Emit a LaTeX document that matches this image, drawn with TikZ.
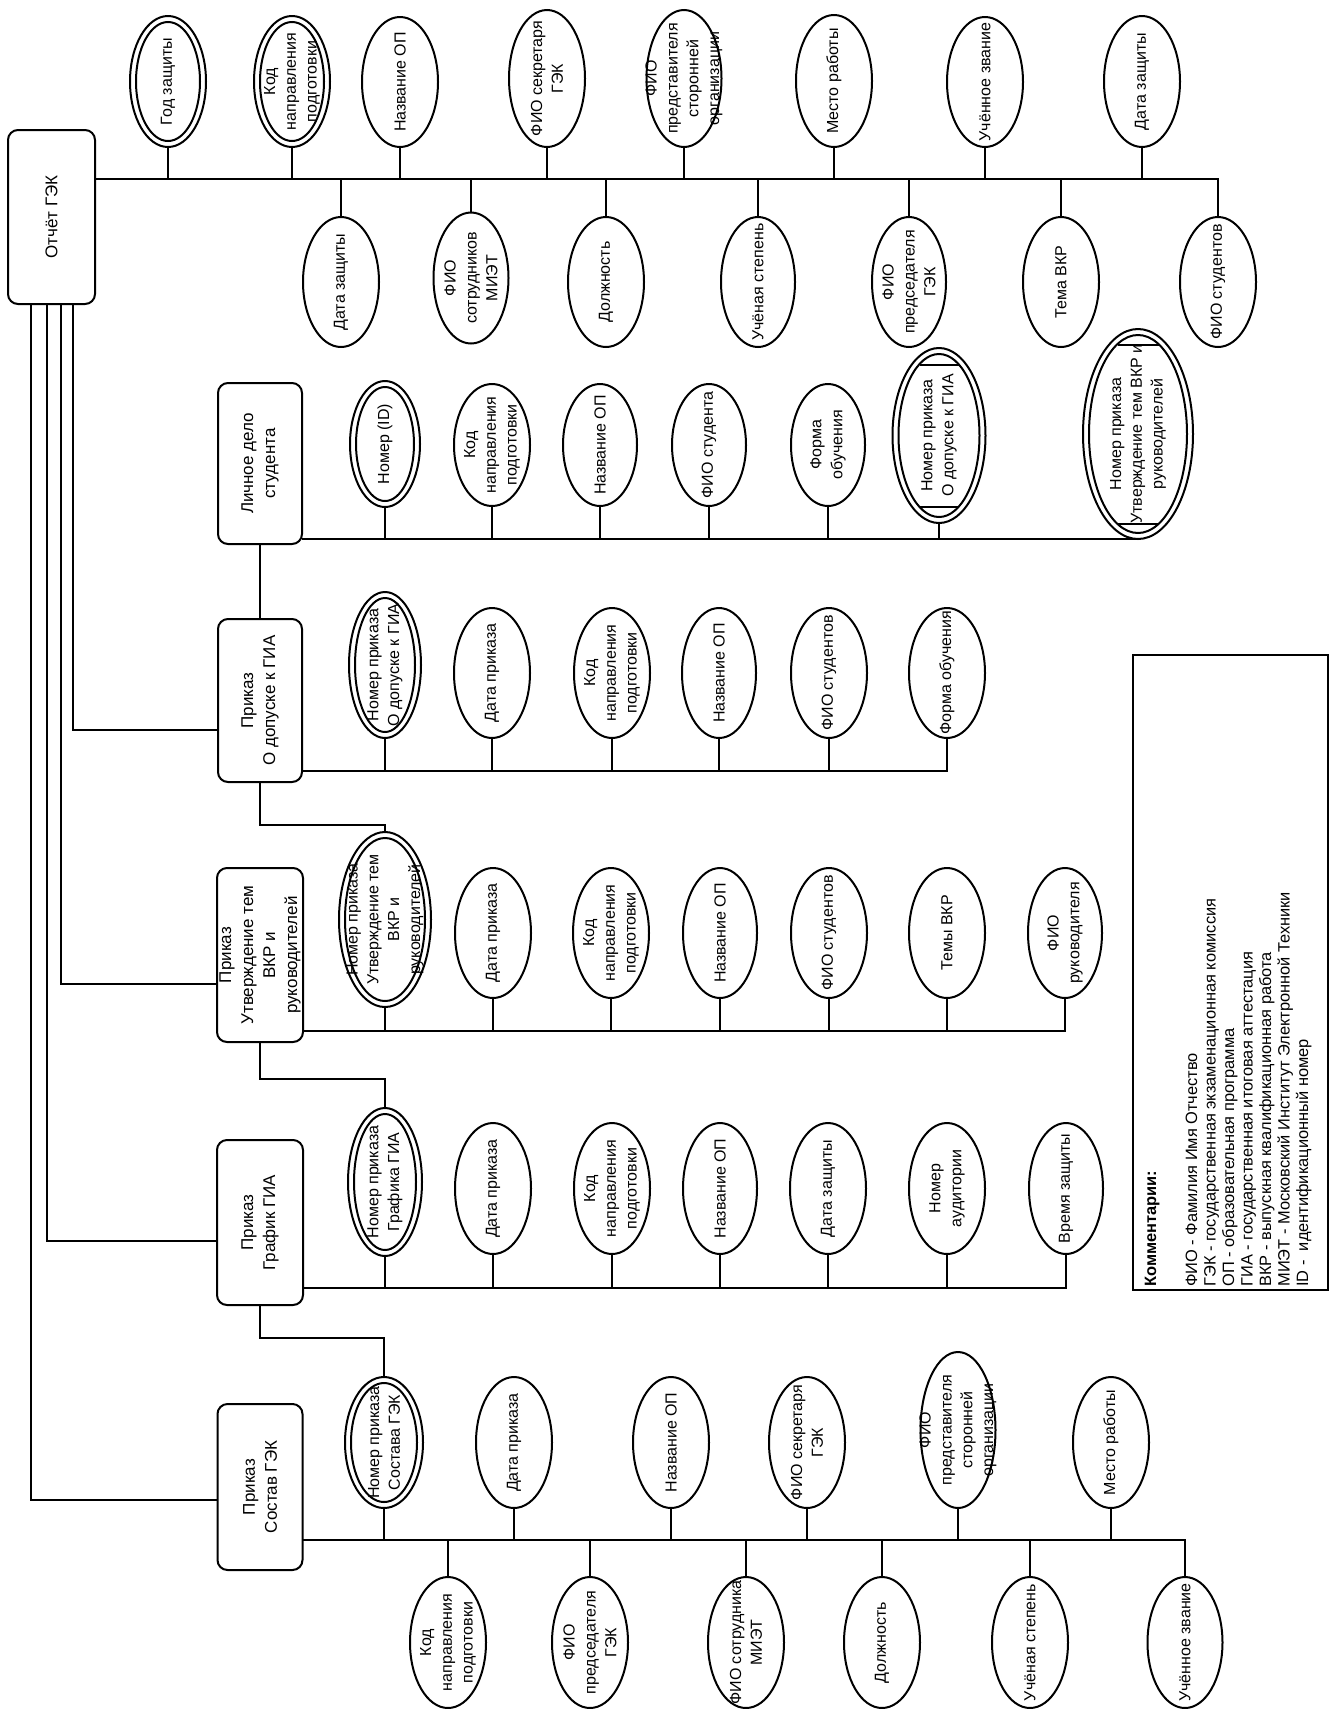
\documentclass[tikz,border=0pt]{standalone}
\usepackage{fontspec}
\setmainfont{Liberation Sans}
\usetikzlibrary{shapes.geometric}
\tikzset{
  ln/.style={line width=1pt},
  ell/.style={draw, ellipse, line width=1pt, inner sep=0pt, outer sep=0pt},
  etext/.style={rotate=90, align=center, inner sep=0pt, font=\fontsize{8}{10.4}\selectfont},
  box/.style={draw, rectangle, rounded corners=5pt, line width=1pt, inner sep=0pt, outer sep=0pt},
  btext/.style={rotate=90, align=center, inner sep=0pt, font=\fontsize{8.5}{11}\selectfont},
  leg/.style={rotate=90, anchor=base west, inner sep=0pt, font=\fontsize{8.2}{9}\selectfont},
}
% name, x, y, rx(px), ry(px), text
\newcommand\attrE[6]{\node[ell, minimum width=#4pt, minimum height=#5pt] (#1) at (#2,#3) {};
  \node[etext] at (#1.center) {#6};}
\newcommand\attrD[6]{\node[ell, minimum width=#4pt, minimum height=#5pt] (#1) at (#2,#3) {};
  \node[ell, minimum width=#4pt-6pt, minimum height=#5pt-6pt] (#1-in) at (#2,#3) {};
  \node[etext] at (#1.center) {#6};}
\begin{document}
\begin{tikzpicture}[x=0.5pt, y=-0.5pt]
\useasboundingbox (0,0) rectangle (1330,1709);

% ---------- Отчёт ГЭК ----------
\node[box, minimum width=43.5pt, minimum height=87pt] (b0) at (51.5,217) {};
\node[btext] at (b0.center) {Отчёт ГЭК};
\attrD{a1}{168}{81.5}{38}{65.5}{Год защиты}
\attrD{a2}{292}{81.5}{38}{65.5}{Код\\направления\\подготовки}
\attrE{a3}{400}{82}{38}{65}{Название ОП}
\attrE{a4}{547}{78.5}{38}{68.5}{ФИО секретаря\\ГЭК}
\attrE{a5}{684}{78.5}{37.5}{68.5}{ФИО\\представителя\\сторонней\\организации}
\attrE{a6}{834}{81}{38}{66}{Место работы}
\attrE{a7}{985}{82}{38}{65}{Учённое звание}
\attrE{a8}{1142}{81.5}{38}{65.5}{Дата защиты}
\attrE{a9}{341}{282}{38}{65}{Дата защиты}
\attrE{a10}{471}{278}{37.5}{65.5}{ФИО\\сотрудников\\МИЭТ}
\attrE{a11}{606}{282}{38}{65}{Должность}
\attrE{a12}{758}{282}{37}{65}{Учёная степень}
\attrE{a13}{909}{282}{37}{65}{ФИО\\председателя\\ГЭК}
\attrE{a14}{1061}{282}{38}{65}{Тема ВКР}
\attrE{a15}{1218}{282}{38}{65}{ФИО студентов}
\coordinate (bus0) at (1218,179);
\draw[ln] (b0.east |- bus0) -- (bus0) -- (a15.north);
\foreach \n in {a1,a2,a3,a4,a5,a6,a7,a8} \draw[ln] (\n.south) -- (\n |- bus0);
\foreach \n in {a9,a10,a11,a12,a13,a14} \draw[ln] (\n.north) -- (\n |- bus0);

% ---------- Личное дело студента ----------
\node[box, minimum width=42pt, minimum height=80.5pt] (b1) at (260,463.5) {};
\node[btext] at (b1.center) {Личное дело\\студента};
\attrD{c1}{385}{444}{35}{63}{Номер (ID)}
\attrE{c2}{492}{445}{38}{61}{Код\\направления\\подготовки}
\attrE{c3}{600}{445}{37}{61}{Название ОП}
\attrE{c4}{709}{445}{37}{61}{ФИО студента}
\attrE{c5}{828}{445}{37}{61}{Форма\\обучения}
\attrD{c6}{939}{435.5}{46.5}{87.5}{Номер приказа\\О допуске к ГИА}
\draw[ln] ([shift={(-19.5,-71)}]c6.center) -- ++(39,0);
\draw[ln] ([shift={(-19.5,71)}]c6.center) -- ++(39,0);
\attrD{c7}{1138}{434}{55}{105}{Номер приказа\\Утверждение тем ВКР и\\руководителей}
\draw[ln] ([shift={(-20.5,-89.5)}]c7.center) -- ++(41,0);
\draw[ln] ([shift={(-20.5,89.5)}]c7.center) -- ++(41,0);
\draw[ln] (b1.east |- c7.south) -- (c7.south);
\foreach \n in {c1,c2,c3,c4,c5,c6} \draw[ln] (\n.south) -- (\n |- c7.south);

% ---------- Приказ О допуске к ГИА ----------
\node[box, minimum width=42pt, minimum height=81.5pt] (b2) at (260,700.5) {};
\node[btext] at (b2.center) {Приказ\\О допуске к ГИА};
\attrD{d1}{385}{665}{36}{73}{Номер приказа\\О допуске к ГИА}
\attrE{d2}{492}{673}{38}{65}{Дата приказа}
\attrE{d3}{612}{673}{38}{65}{Код\\направления\\подготовки}
\attrE{d4}{719}{673}{37}{65}{Название ОП}
\attrE{d5}{829}{673}{38}{65}{ФИО студентов}
\attrE{d6}{947}{673}{38}{65}{Форма обучения}
\coordinate (bus2) at (947,771);
\draw[ln] (b2.east |- bus2) -- (bus2) -- (d6.south);
\foreach \n in {d1,d2,d3,d4,d5} \draw[ln] (\n.south) -- (\n |- bus2);

% ---------- Приказ Утверждение тем ВКР и руководителей ----------
\node[box, minimum width=43pt, minimum height=87pt] (b3) at (260,955) {};
\node[btext] at (b3.center) {Приказ\\Утверждение тем\\ВКР и\\руководителей};
\attrD{e1}{385}{919.5}{46}{87.5}{Номер приказа\\Утверждение тем\\ВКР и\\руководителей}
\attrE{e2}{493}{933}{38}{65}{Дата приказа}
\attrE{e3}{611}{933}{38}{65}{Код\\направления\\подготовки}
\attrE{e4}{720}{933}{37}{65}{Название ОП}
\attrE{e5}{829}{933}{38}{65}{ФИО студентов}
\attrE{e6}{947}{933}{38}{65}{Темы ВКР}
\attrE{e7}{1065}{933}{37}{65}{ФИО\\руководителя}
\coordinate (bus3) at (1065,1031);
\draw[ln] (b3.east |- bus3) -- (bus3) -- (e7.south);
\foreach \n in {e1,e2,e3,e4,e5,e6} \draw[ln] (\n.south) -- (\n |- bus3);

% ---------- Приказ График ГИА ----------
\node[box, minimum width=43pt, minimum height=82.5pt] (b4) at (260,1222.5) {};
\node[btext] at (b4.center) {Приказ\\График ГИА};
\attrD{f1}{385}{1182}{37}{74}{Номер приказа\\Графика ГИА}
\attrE{f2}{493}{1188.5}{38}{65.5}{Дата приказа}
\attrE{f3}{612}{1188.5}{38}{65.5}{Код\\направления\\подготовки}
\attrE{f4}{720}{1188.5}{37}{65.5}{Название ОП}
\attrE{f5}{828}{1188.5}{38}{65.5}{Дата защиты}
\attrE{f6}{947}{1188.5}{38}{65.5}{Номер\\аудитории}
\attrE{f7}{1066}{1188.5}{37}{65.5}{Время защиты}
\coordinate (bus4) at (1066,1288);
\draw[ln] (b4.east |- bus4) -- (bus4) -- (f7.south);
\foreach \n in {f1,f2,f3,f4,f5,f6} \draw[ln] (\n.south) -- (\n |- bus4);

% ---------- Приказ Состав ГЭК ----------
\node[box, minimum width=42.5pt, minimum height=83pt] (b5) at (260,1487) {};
\node[btext] at (b5.center) {Приказ\\Состав ГЭК};
\attrD{g1}{384}{1442.5}{39}{65.5}{Номер приказа\\Состава ГЭК}
\attrE{g2}{514}{1442.5}{38}{65.5}{Дата приказа}
\attrE{g3}{671}{1442.5}{38}{65.5}{Название ОП}
\attrE{g4}{807}{1442.5}{38}{65.5}{ФИО секретаря\\ГЭК}
\attrE{g5}{958}{1430}{37.5}{78}{ФИО\\представителя\\сторонней\\организации}
\attrE{g6}{1111}{1442.5}{38}{65.5}{Место работы}
\attrE{h1}{448}{1642.5}{38}{65.5}{Код\\направления\\подготовки}
\attrE{h2}{590}{1642.5}{38}{65.5}{ФИО\\председателя\\ГЭК}
\attrE{h3}{746}{1642.5}{38}{65.5}{ФИО сотрудника\\МИЭТ}
\attrE{h4}{882}{1642.5}{38}{65.5}{Должность}
\attrE{h5}{1030}{1642.5}{38}{65.5}{Учёная степень}
\attrE{h6}{1185}{1642.5}{37.5}{65.5}{Учённое звание}
\coordinate (bus5) at (1185,1540);
\draw[ln] (b5.east |- bus5) -- (bus5) -- (h6.north);
\foreach \n in {g1,g2,g3,g4,g5,g6} \draw[ln] (\n.south) -- (\n |- bus5);
\foreach \n in {h1,h2,h3,h4,h5} \draw[ln] (\n.north) -- (\n |- bus5);

% ---------- links between documents ----------
\draw[ln] (b1.south) -- (b2.north);
\draw[ln] (b2.south) -- ++(0,43) -| (e1.north);
\draw[ln] (b3.south) -- ++(0,37) -| (f1.north);
\draw[ln] (b4.south) -- ++(0,33) -| (g1.north);
\draw[ln] ([xshift=32.5pt]b0.south west) |- ([yshift=-14.75pt]b2.west);
\draw[ln] ([xshift=26.5pt]b0.south west) |- ([yshift=-14.5pt]b3.west);
\draw[ln] ([xshift=19.5pt]b0.south west) |- ([yshift=-9.25pt]b4.west);
\draw[ln] ([xshift=11.5pt]b0.south west) |- ([yshift=-6.5pt]b5.west);

% ---------- legend ----------
\node[draw, line width=1pt, inner sep=0pt, outer sep=0pt, minimum width=97.5pt, minimum height=317.5pt] (lg) at (1230.5,972.5) {};
\node[leg, font=\fontsize{8.2}{9}\selectfont\bfseries] at (1156,1287) {Комментарии:};
\node[leg] at (1197,1287) {ФИО - Фамилия Имя Отчество};
\node[leg] at (1215.5,1287) {ГЭК - государственная экзаменационная комиссия};
\node[leg] at (1234,1287) {ОП - образовательная программа};
\node[leg] at (1252.5,1287) {ГИА - государственная итоговая аттестация};
\node[leg] at (1271,1287) {ВКР - выпускная квалификационная работа};
\node[leg] at (1289.5,1287) {МИЭТ - Московский Институт Электронной Техники};
\node[leg] at (1308,1287) {ID -~~идентификационный номер};
\end{tikzpicture}
\end{document}
